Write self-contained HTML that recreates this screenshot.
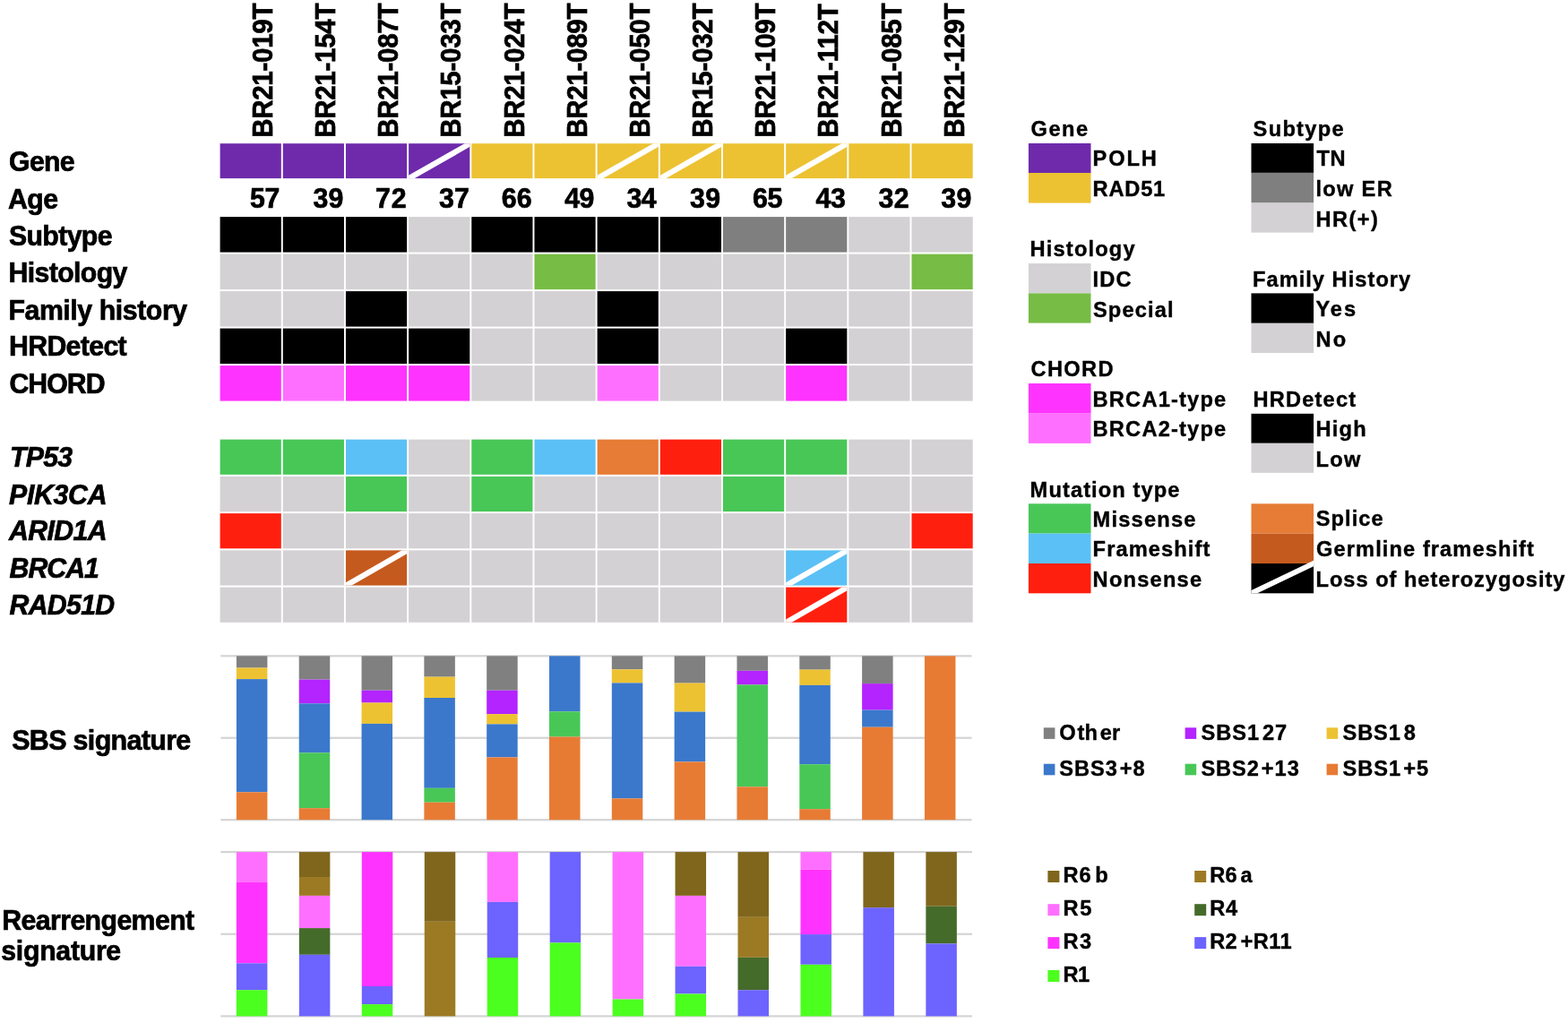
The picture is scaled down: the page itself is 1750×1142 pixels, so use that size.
<!DOCTYPE html>
<html><head><meta charset="utf-8"><title>Figure</title>
<style>
html,body{margin:0;padding:0;background:#fff;}
body{width:1750px;height:1142px;overflow:hidden;}
svg{display:block;}
svg text{font-family:'Liberation Sans',Arial,Helvetica,sans-serif;font-weight:bold;fill:#000;}
</style></head>
<body>
<svg width="1750" height="1142" viewBox="0 0 1750 1142">
<rect x="0" y="0" width="1750" height="1142" fill="#fff"/>
<rect x="245.60" y="160.20" width="68.20" height="38.90" fill="#6e2aaa"/>
<rect x="315.77" y="160.20" width="68.20" height="38.90" fill="#6e2aaa"/>
<rect x="385.94" y="160.20" width="68.20" height="38.90" fill="#6e2aaa"/>
<rect x="456.11" y="160.20" width="68.20" height="38.90" fill="#6e2aaa"/>
<rect x="526.28" y="160.20" width="68.20" height="38.90" fill="#ecc232"/>
<rect x="596.45" y="160.20" width="68.20" height="38.90" fill="#ecc232"/>
<rect x="666.62" y="160.20" width="68.20" height="38.90" fill="#ecc232"/>
<rect x="736.79" y="160.20" width="68.20" height="38.90" fill="#ecc232"/>
<rect x="806.96" y="160.20" width="68.20" height="38.90" fill="#ecc232"/>
<rect x="877.13" y="160.20" width="68.20" height="38.90" fill="#ecc232"/>
<rect x="947.30" y="160.20" width="68.20" height="38.90" fill="#ecc232"/>
<rect x="1017.47" y="160.20" width="68.20" height="38.90" fill="#ecc232"/>
<clipPath id="c1"><rect x="877.13" y="160.20" width="68.20" height="38.90"/></clipPath>
<line clip-path="url(#c1)" x1="873.13" y1="201.58" x2="949.33" y2="158.12" stroke="#fff" stroke-width="6.2"/>
<clipPath id="c2"><rect x="456.11" y="160.20" width="68.20" height="38.90"/></clipPath>
<line clip-path="url(#c2)" x1="452.11" y1="201.58" x2="528.31" y2="158.12" stroke="#fff" stroke-width="6.2"/>
<clipPath id="c3"><rect x="666.62" y="160.20" width="68.20" height="38.90"/></clipPath>
<line clip-path="url(#c3)" x1="662.62" y1="201.58" x2="738.82" y2="158.12" stroke="#fff" stroke-width="6.2"/>
<clipPath id="c4"><rect x="736.79" y="160.20" width="68.20" height="38.90"/></clipPath>
<line clip-path="url(#c4)" x1="732.79" y1="201.58" x2="808.99" y2="158.12" stroke="#fff" stroke-width="6.2"/>
<rect x="245.60" y="242.10" width="68.20" height="39.50" fill="#000000"/>
<rect x="315.77" y="242.10" width="68.20" height="39.50" fill="#000000"/>
<rect x="385.94" y="242.10" width="68.20" height="39.50" fill="#000000"/>
<rect x="456.11" y="242.10" width="68.20" height="39.50" fill="#d3d1d3"/>
<rect x="526.28" y="242.10" width="68.20" height="39.50" fill="#000000"/>
<rect x="596.45" y="242.10" width="68.20" height="39.50" fill="#000000"/>
<rect x="666.62" y="242.10" width="68.20" height="39.50" fill="#000000"/>
<rect x="736.79" y="242.10" width="68.20" height="39.50" fill="#000000"/>
<rect x="806.96" y="242.10" width="68.20" height="39.50" fill="#7f7f7f"/>
<rect x="877.13" y="242.10" width="68.20" height="39.50" fill="#7f7f7f"/>
<rect x="947.30" y="242.10" width="68.20" height="39.50" fill="#d3d1d3"/>
<rect x="1017.47" y="242.10" width="68.20" height="39.50" fill="#d3d1d3"/>
<rect x="245.60" y="283.60" width="68.20" height="39.50" fill="#d3d1d3"/>
<rect x="315.77" y="283.60" width="68.20" height="39.50" fill="#d3d1d3"/>
<rect x="385.94" y="283.60" width="68.20" height="39.50" fill="#d3d1d3"/>
<rect x="456.11" y="283.60" width="68.20" height="39.50" fill="#d3d1d3"/>
<rect x="526.28" y="283.60" width="68.20" height="39.50" fill="#d3d1d3"/>
<rect x="596.45" y="283.60" width="68.20" height="39.50" fill="#77bc45"/>
<rect x="666.62" y="283.60" width="68.20" height="39.50" fill="#d3d1d3"/>
<rect x="736.79" y="283.60" width="68.20" height="39.50" fill="#d3d1d3"/>
<rect x="806.96" y="283.60" width="68.20" height="39.50" fill="#d3d1d3"/>
<rect x="877.13" y="283.60" width="68.20" height="39.50" fill="#d3d1d3"/>
<rect x="947.30" y="283.60" width="68.20" height="39.50" fill="#d3d1d3"/>
<rect x="1017.47" y="283.60" width="68.20" height="39.50" fill="#77bc45"/>
<rect x="245.60" y="325.10" width="68.20" height="39.50" fill="#d3d1d3"/>
<rect x="315.77" y="325.10" width="68.20" height="39.50" fill="#d3d1d3"/>
<rect x="385.94" y="325.10" width="68.20" height="39.50" fill="#000000"/>
<rect x="456.11" y="325.10" width="68.20" height="39.50" fill="#d3d1d3"/>
<rect x="526.28" y="325.10" width="68.20" height="39.50" fill="#d3d1d3"/>
<rect x="596.45" y="325.10" width="68.20" height="39.50" fill="#d3d1d3"/>
<rect x="666.62" y="325.10" width="68.20" height="39.50" fill="#000000"/>
<rect x="736.79" y="325.10" width="68.20" height="39.50" fill="#d3d1d3"/>
<rect x="806.96" y="325.10" width="68.20" height="39.50" fill="#d3d1d3"/>
<rect x="877.13" y="325.10" width="68.20" height="39.50" fill="#d3d1d3"/>
<rect x="947.30" y="325.10" width="68.20" height="39.50" fill="#d3d1d3"/>
<rect x="1017.47" y="325.10" width="68.20" height="39.50" fill="#d3d1d3"/>
<rect x="245.60" y="366.60" width="68.20" height="39.50" fill="#000000"/>
<rect x="315.77" y="366.60" width="68.20" height="39.50" fill="#000000"/>
<rect x="385.94" y="366.60" width="68.20" height="39.50" fill="#000000"/>
<rect x="456.11" y="366.60" width="68.20" height="39.50" fill="#000000"/>
<rect x="526.28" y="366.60" width="68.20" height="39.50" fill="#d3d1d3"/>
<rect x="596.45" y="366.60" width="68.20" height="39.50" fill="#d3d1d3"/>
<rect x="666.62" y="366.60" width="68.20" height="39.50" fill="#000000"/>
<rect x="736.79" y="366.60" width="68.20" height="39.50" fill="#d3d1d3"/>
<rect x="806.96" y="366.60" width="68.20" height="39.50" fill="#d3d1d3"/>
<rect x="877.13" y="366.60" width="68.20" height="39.50" fill="#000000"/>
<rect x="947.30" y="366.60" width="68.20" height="39.50" fill="#d3d1d3"/>
<rect x="1017.47" y="366.60" width="68.20" height="39.50" fill="#d3d1d3"/>
<rect x="245.60" y="408.10" width="68.20" height="39.50" fill="#ff33ff"/>
<rect x="315.77" y="408.10" width="68.20" height="39.50" fill="#ff6fff"/>
<rect x="385.94" y="408.10" width="68.20" height="39.50" fill="#ff33ff"/>
<rect x="456.11" y="408.10" width="68.20" height="39.50" fill="#ff33ff"/>
<rect x="526.28" y="408.10" width="68.20" height="39.50" fill="#d3d1d3"/>
<rect x="596.45" y="408.10" width="68.20" height="39.50" fill="#d3d1d3"/>
<rect x="666.62" y="408.10" width="68.20" height="39.50" fill="#ff6fff"/>
<rect x="736.79" y="408.10" width="68.20" height="39.50" fill="#d3d1d3"/>
<rect x="806.96" y="408.10" width="68.20" height="39.50" fill="#d3d1d3"/>
<rect x="877.13" y="408.10" width="68.20" height="39.50" fill="#ff33ff"/>
<rect x="947.30" y="408.10" width="68.20" height="39.50" fill="#d3d1d3"/>
<rect x="1017.47" y="408.10" width="68.20" height="39.50" fill="#d3d1d3"/>
<rect x="245.60" y="490.60" width="68.20" height="39.20" fill="#48c757"/>
<rect x="315.77" y="490.60" width="68.20" height="39.20" fill="#48c757"/>
<rect x="385.94" y="490.60" width="68.20" height="39.20" fill="#5bc0f5"/>
<rect x="456.11" y="490.60" width="68.20" height="39.20" fill="#d3d1d3"/>
<rect x="526.28" y="490.60" width="68.20" height="39.20" fill="#48c757"/>
<rect x="596.45" y="490.60" width="68.20" height="39.20" fill="#5bc0f5"/>
<rect x="666.62" y="490.60" width="68.20" height="39.20" fill="#e67c35"/>
<rect x="736.79" y="490.60" width="68.20" height="39.20" fill="#ff1f0f"/>
<rect x="806.96" y="490.60" width="68.20" height="39.20" fill="#48c757"/>
<rect x="877.13" y="490.60" width="68.20" height="39.20" fill="#48c757"/>
<rect x="947.30" y="490.60" width="68.20" height="39.20" fill="#d3d1d3"/>
<rect x="1017.47" y="490.60" width="68.20" height="39.20" fill="#d3d1d3"/>
<rect x="245.60" y="531.85" width="68.20" height="39.20" fill="#d3d1d3"/>
<rect x="315.77" y="531.85" width="68.20" height="39.20" fill="#d3d1d3"/>
<rect x="385.94" y="531.85" width="68.20" height="39.20" fill="#48c757"/>
<rect x="456.11" y="531.85" width="68.20" height="39.20" fill="#d3d1d3"/>
<rect x="526.28" y="531.85" width="68.20" height="39.20" fill="#48c757"/>
<rect x="596.45" y="531.85" width="68.20" height="39.20" fill="#d3d1d3"/>
<rect x="666.62" y="531.85" width="68.20" height="39.20" fill="#d3d1d3"/>
<rect x="736.79" y="531.85" width="68.20" height="39.20" fill="#d3d1d3"/>
<rect x="806.96" y="531.85" width="68.20" height="39.20" fill="#48c757"/>
<rect x="877.13" y="531.85" width="68.20" height="39.20" fill="#d3d1d3"/>
<rect x="947.30" y="531.85" width="68.20" height="39.20" fill="#d3d1d3"/>
<rect x="1017.47" y="531.85" width="68.20" height="39.20" fill="#d3d1d3"/>
<rect x="245.60" y="573.10" width="68.20" height="39.20" fill="#ff1f0f"/>
<rect x="315.77" y="573.10" width="68.20" height="39.20" fill="#d3d1d3"/>
<rect x="385.94" y="573.10" width="68.20" height="39.20" fill="#d3d1d3"/>
<rect x="456.11" y="573.10" width="68.20" height="39.20" fill="#d3d1d3"/>
<rect x="526.28" y="573.10" width="68.20" height="39.20" fill="#d3d1d3"/>
<rect x="596.45" y="573.10" width="68.20" height="39.20" fill="#d3d1d3"/>
<rect x="666.62" y="573.10" width="68.20" height="39.20" fill="#d3d1d3"/>
<rect x="736.79" y="573.10" width="68.20" height="39.20" fill="#d3d1d3"/>
<rect x="806.96" y="573.10" width="68.20" height="39.20" fill="#d3d1d3"/>
<rect x="877.13" y="573.10" width="68.20" height="39.20" fill="#d3d1d3"/>
<rect x="947.30" y="573.10" width="68.20" height="39.20" fill="#d3d1d3"/>
<rect x="1017.47" y="573.10" width="68.20" height="39.20" fill="#ff1f0f"/>
<rect x="245.60" y="614.35" width="68.20" height="39.20" fill="#d3d1d3"/>
<rect x="315.77" y="614.35" width="68.20" height="39.20" fill="#d3d1d3"/>
<rect x="385.94" y="614.35" width="68.20" height="39.20" fill="#c55a1e"/>
<rect x="456.11" y="614.35" width="68.20" height="39.20" fill="#d3d1d3"/>
<rect x="526.28" y="614.35" width="68.20" height="39.20" fill="#d3d1d3"/>
<rect x="596.45" y="614.35" width="68.20" height="39.20" fill="#d3d1d3"/>
<rect x="666.62" y="614.35" width="68.20" height="39.20" fill="#d3d1d3"/>
<rect x="736.79" y="614.35" width="68.20" height="39.20" fill="#d3d1d3"/>
<rect x="806.96" y="614.35" width="68.20" height="39.20" fill="#d3d1d3"/>
<rect x="877.13" y="614.35" width="68.20" height="39.20" fill="#5bc0f5"/>
<rect x="947.30" y="614.35" width="68.20" height="39.20" fill="#d3d1d3"/>
<rect x="1017.47" y="614.35" width="68.20" height="39.20" fill="#d3d1d3"/>
<rect x="245.60" y="655.60" width="68.20" height="39.20" fill="#d3d1d3"/>
<rect x="315.77" y="655.60" width="68.20" height="39.20" fill="#d3d1d3"/>
<rect x="385.94" y="655.60" width="68.20" height="39.20" fill="#d3d1d3"/>
<rect x="456.11" y="655.60" width="68.20" height="39.20" fill="#d3d1d3"/>
<rect x="526.28" y="655.60" width="68.20" height="39.20" fill="#d3d1d3"/>
<rect x="596.45" y="655.60" width="68.20" height="39.20" fill="#d3d1d3"/>
<rect x="666.62" y="655.60" width="68.20" height="39.20" fill="#d3d1d3"/>
<rect x="736.79" y="655.60" width="68.20" height="39.20" fill="#d3d1d3"/>
<rect x="806.96" y="655.60" width="68.20" height="39.20" fill="#d3d1d3"/>
<rect x="877.13" y="655.60" width="68.20" height="39.20" fill="#ff1f0f"/>
<rect x="947.30" y="655.60" width="68.20" height="39.20" fill="#d3d1d3"/>
<rect x="1017.47" y="655.60" width="68.20" height="39.20" fill="#d3d1d3"/>
<clipPath id="c5"><rect x="877.13" y="655.60" width="68.20" height="39.20"/></clipPath>
<line clip-path="url(#c5)" x1="873.13" y1="697.30" x2="949.33" y2="653.50" stroke="#fff" stroke-width="6.2"/>
<clipPath id="c6"><rect x="385.94" y="614.35" width="68.20" height="39.20"/></clipPath>
<line clip-path="url(#c6)" x1="381.94" y1="656.05" x2="458.14" y2="612.25" stroke="#fff" stroke-width="6.2"/>
<clipPath id="c7"><rect x="877.13" y="614.35" width="68.20" height="39.20"/></clipPath>
<line clip-path="url(#c7)" x1="873.13" y1="656.05" x2="949.33" y2="612.25" stroke="#fff" stroke-width="6.2"/>
<rect x="1147.90" y="160.00" width="69.60" height="33.00" fill="#6e2aaa"/>
<rect x="1147.90" y="193.00" width="69.60" height="33.60" fill="#ecc232"/>
<rect x="1396.50" y="160.00" width="69.60" height="32.90" fill="#000000"/>
<rect x="1396.50" y="192.90" width="69.60" height="33.60" fill="#7f7f7f"/>
<rect x="1396.50" y="226.50" width="69.60" height="33.10" fill="#d3d1d3"/>
<rect x="1147.90" y="294.10" width="69.60" height="33.30" fill="#d3d1d3"/>
<rect x="1147.90" y="327.40" width="69.60" height="33.20" fill="#77bc45"/>
<rect x="1396.50" y="327.40" width="69.60" height="33.40" fill="#000000"/>
<rect x="1396.50" y="360.80" width="69.60" height="33.20" fill="#d3d1d3"/>
<rect x="1147.90" y="428.00" width="69.60" height="33.60" fill="#ff33ff"/>
<rect x="1147.90" y="461.60" width="69.60" height="33.30" fill="#ff6fff"/>
<rect x="1396.50" y="461.80" width="69.60" height="33.00" fill="#000000"/>
<rect x="1396.50" y="494.80" width="69.60" height="33.00" fill="#d3d1d3"/>
<rect x="1147.90" y="562.30" width="69.60" height="33.30" fill="#48c757"/>
<rect x="1147.90" y="595.60" width="69.60" height="33.40" fill="#5bc0f5"/>
<rect x="1147.90" y="629.00" width="69.60" height="33.30" fill="#ff1f0f"/>
<rect x="1396.50" y="562.30" width="69.60" height="33.30" fill="#e67c35"/>
<rect x="1396.50" y="595.60" width="69.60" height="33.40" fill="#c55a1e"/>
<rect x="1396.50" y="629.00" width="69.60" height="33.30" fill="#000000"/>
<clipPath id="c8"><rect x="1396.50" y="599.00" width="69.60" height="63.30"/></clipPath>
<line clip-path="url(#c8)" x1="1392.50" y1="664.21" x2="1470.10" y2="627.09" stroke="#fff" stroke-width="5.8"/>
<rect x="246.3" y="731.20" width="838.20" height="2.2" fill="#d4d4d4"/>
<rect x="246.3" y="822.65" width="838.20" height="2.2" fill="#d4d4d4"/>
<rect x="246.3" y="914.10" width="838.20" height="2.2" fill="#d4d4d4"/>
<rect x="263.90" y="732.30" width="34.50" height="13.20" fill="#808080"/>
<rect x="263.90" y="745.50" width="34.50" height="12.60" fill="#edc232"/>
<rect x="263.90" y="758.10" width="34.50" height="126.20" fill="#3b78cb"/>
<rect x="263.90" y="884.30" width="34.50" height="30.90" fill="#e77b34"/>
<rect x="333.72" y="732.30" width="34.50" height="26.30" fill="#808080"/>
<rect x="333.72" y="758.60" width="34.50" height="26.70" fill="#b324ff"/>
<rect x="333.72" y="785.30" width="34.50" height="55.00" fill="#3b78cb"/>
<rect x="333.72" y="840.30" width="34.50" height="61.90" fill="#48c757"/>
<rect x="333.72" y="902.20" width="34.50" height="13.00" fill="#e77b34"/>
<rect x="403.54" y="732.30" width="34.50" height="38.40" fill="#808080"/>
<rect x="403.54" y="770.70" width="34.50" height="13.80" fill="#b324ff"/>
<rect x="403.54" y="784.50" width="34.50" height="23.40" fill="#edc232"/>
<rect x="403.54" y="807.90" width="34.50" height="107.30" fill="#3b78cb"/>
<rect x="473.36" y="732.30" width="34.50" height="23.30" fill="#808080"/>
<rect x="473.36" y="755.60" width="34.50" height="23.40" fill="#edc232"/>
<rect x="473.36" y="779.00" width="34.50" height="100.80" fill="#3b78cb"/>
<rect x="473.36" y="879.80" width="34.50" height="15.90" fill="#48c757"/>
<rect x="473.36" y="895.70" width="34.50" height="19.50" fill="#e77b34"/>
<rect x="543.18" y="732.30" width="34.50" height="38.40" fill="#808080"/>
<rect x="543.18" y="770.70" width="34.50" height="26.40" fill="#b324ff"/>
<rect x="543.18" y="797.10" width="34.50" height="11.30" fill="#edc232"/>
<rect x="543.18" y="808.40" width="34.50" height="37.00" fill="#3b78cb"/>
<rect x="543.18" y="845.40" width="34.50" height="69.80" fill="#e77b34"/>
<rect x="613.00" y="732.30" width="34.50" height="62.00" fill="#3b78cb"/>
<rect x="613.00" y="794.30" width="34.50" height="28.20" fill="#48c757"/>
<rect x="613.00" y="822.50" width="34.50" height="92.70" fill="#e77b34"/>
<rect x="682.82" y="732.30" width="34.50" height="15.00" fill="#808080"/>
<rect x="682.82" y="747.30" width="34.50" height="15.10" fill="#edc232"/>
<rect x="682.82" y="762.40" width="34.50" height="129.00" fill="#3b78cb"/>
<rect x="682.82" y="891.40" width="34.50" height="23.80" fill="#e77b34"/>
<rect x="752.64" y="732.30" width="34.50" height="30.30" fill="#808080"/>
<rect x="752.64" y="762.60" width="34.50" height="32.00" fill="#edc232"/>
<rect x="752.64" y="794.60" width="34.50" height="55.80" fill="#3b78cb"/>
<rect x="752.64" y="850.40" width="34.50" height="64.80" fill="#e77b34"/>
<rect x="822.46" y="732.30" width="34.50" height="16.50" fill="#808080"/>
<rect x="822.46" y="748.80" width="34.50" height="15.60" fill="#b324ff"/>
<rect x="822.46" y="764.40" width="34.50" height="113.90" fill="#48c757"/>
<rect x="822.46" y="878.30" width="34.50" height="36.90" fill="#e77b34"/>
<rect x="892.28" y="732.30" width="34.50" height="15.30" fill="#808080"/>
<rect x="892.28" y="747.60" width="34.50" height="17.30" fill="#edc232"/>
<rect x="892.28" y="764.90" width="34.50" height="88.30" fill="#3b78cb"/>
<rect x="892.28" y="853.20" width="34.50" height="50.00" fill="#48c757"/>
<rect x="892.28" y="903.20" width="34.50" height="12.00" fill="#e77b34"/>
<rect x="962.10" y="732.30" width="34.50" height="30.80" fill="#808080"/>
<rect x="962.10" y="763.10" width="34.50" height="29.50" fill="#b324ff"/>
<rect x="962.10" y="792.60" width="34.50" height="19.10" fill="#3b78cb"/>
<rect x="962.10" y="811.70" width="34.50" height="103.50" fill="#e77b34"/>
<rect x="1031.92" y="732.30" width="34.50" height="182.90" fill="#e77b34"/>
<rect x="246.3" y="950.00" width="838.70" height="2.2" fill="#d4d4d4"/>
<rect x="246.3" y="1041.65" width="838.70" height="2.2" fill="#d4d4d4"/>
<rect x="246.3" y="1133.30" width="838.70" height="2.2" fill="#d4d4d4"/>
<rect x="263.90" y="951.10" width="34.50" height="33.40" fill="#ff6fff"/>
<rect x="263.90" y="984.50" width="34.50" height="90.80" fill="#ff33ff"/>
<rect x="263.90" y="1075.30" width="34.50" height="29.90" fill="#6d63ff"/>
<rect x="263.90" y="1105.20" width="34.50" height="29.20" fill="#4bff1f"/>
<rect x="333.85" y="951.10" width="34.50" height="27.90" fill="#7f661c"/>
<rect x="333.85" y="979.00" width="34.50" height="20.90" fill="#9c7a24"/>
<rect x="333.85" y="999.90" width="34.50" height="36.20" fill="#ff6fff"/>
<rect x="333.85" y="1036.10" width="34.50" height="29.70" fill="#456b2b"/>
<rect x="333.85" y="1065.80" width="34.50" height="68.60" fill="#6d63ff"/>
<rect x="403.80" y="951.10" width="34.50" height="149.90" fill="#ff33ff"/>
<rect x="403.80" y="1101.00" width="34.50" height="20.10" fill="#6d63ff"/>
<rect x="403.80" y="1121.10" width="34.50" height="13.30" fill="#4bff1f"/>
<rect x="473.75" y="951.10" width="34.50" height="77.70" fill="#7f661c"/>
<rect x="473.75" y="1028.80" width="34.50" height="105.60" fill="#9c7a24"/>
<rect x="543.70" y="951.10" width="34.50" height="55.80" fill="#ff6fff"/>
<rect x="543.70" y="1006.90" width="34.50" height="62.10" fill="#6d63ff"/>
<rect x="543.70" y="1069.00" width="34.50" height="65.40" fill="#4bff1f"/>
<rect x="613.65" y="951.10" width="34.50" height="101.30" fill="#6d63ff"/>
<rect x="613.65" y="1052.40" width="34.50" height="82.00" fill="#4bff1f"/>
<rect x="683.60" y="951.10" width="34.50" height="164.40" fill="#ff6fff"/>
<rect x="683.60" y="1115.50" width="34.50" height="18.90" fill="#4bff1f"/>
<rect x="753.55" y="951.10" width="34.50" height="48.80" fill="#7f661c"/>
<rect x="753.55" y="999.90" width="34.50" height="78.90" fill="#ff6fff"/>
<rect x="753.55" y="1078.80" width="34.50" height="30.70" fill="#6d63ff"/>
<rect x="753.55" y="1109.50" width="34.50" height="24.90" fill="#4bff1f"/>
<rect x="823.50" y="951.10" width="34.50" height="72.70" fill="#7f661c"/>
<rect x="823.50" y="1023.80" width="34.50" height="45.00" fill="#9c7a24"/>
<rect x="823.50" y="1068.80" width="34.50" height="36.40" fill="#456b2b"/>
<rect x="823.50" y="1105.20" width="34.50" height="29.20" fill="#6d63ff"/>
<rect x="893.45" y="951.10" width="34.50" height="19.60" fill="#ff6fff"/>
<rect x="893.45" y="970.70" width="34.50" height="72.40" fill="#ff33ff"/>
<rect x="893.45" y="1043.10" width="34.50" height="33.70" fill="#6d63ff"/>
<rect x="893.45" y="1076.80" width="34.50" height="57.60" fill="#4bff1f"/>
<rect x="963.40" y="951.10" width="34.50" height="62.10" fill="#7f661c"/>
<rect x="963.40" y="1013.20" width="34.50" height="121.20" fill="#6d63ff"/>
<rect x="1033.35" y="951.10" width="34.50" height="60.60" fill="#7f661c"/>
<rect x="1033.35" y="1011.70" width="34.50" height="41.70" fill="#456b2b"/>
<rect x="1033.35" y="1053.40" width="34.50" height="81.00" fill="#6d63ff"/>
<rect x="1164.80" y="812.30" width="12.60" height="12.60" fill="#808080"/>
<rect x="1322.60" y="812.30" width="12.60" height="12.60" fill="#b324ff"/>
<rect x="1480.60" y="812.30" width="12.60" height="12.60" fill="#edc232"/>
<rect x="1164.80" y="852.70" width="12.60" height="12.60" fill="#3b78cb"/>
<rect x="1322.60" y="852.70" width="12.60" height="12.60" fill="#48c757"/>
<rect x="1480.60" y="852.70" width="12.60" height="12.60" fill="#e77b34"/>
<rect x="1169.40" y="972.00" width="13.00" height="13.00" fill="#7f661c"/>
<rect x="1333.20" y="972.00" width="13.00" height="13.00" fill="#9c7a24"/>
<rect x="1169.40" y="1009.20" width="13.00" height="13.00" fill="#ff6fff"/>
<rect x="1333.20" y="1009.20" width="13.00" height="13.00" fill="#456b2b"/>
<rect x="1169.40" y="1046.10" width="13.00" height="13.00" fill="#ff33ff"/>
<rect x="1333.20" y="1046.10" width="13.00" height="13.00" fill="#6d63ff"/>
<rect x="1169.40" y="1083.00" width="13.00" height="13.00" fill="#4bff1f"/>
<text transform="translate(303.95,153.84) rotate(-90) scale(0.97,1)" font-size="30.49" letter-spacing="-0.316" stroke="#000" stroke-width="0.7">BR21-019T</text>
<text transform="translate(374.12,153.84) rotate(-90) scale(0.97,1)" font-size="30.49" letter-spacing="-0.316" stroke="#000" stroke-width="0.7">BR21-154T</text>
<text transform="translate(444.29,153.84) rotate(-90) scale(0.97,1)" font-size="30.49" letter-spacing="-0.316" stroke="#000" stroke-width="0.7">BR21-087T</text>
<text transform="translate(514.46,153.84) rotate(-90) scale(0.97,1)" font-size="30.49" letter-spacing="-0.316" stroke="#000" stroke-width="0.7">BR15-033T</text>
<text transform="translate(584.63,153.84) rotate(-90) scale(0.97,1)" font-size="30.49" letter-spacing="-0.316" stroke="#000" stroke-width="0.7">BR21-024T</text>
<text transform="translate(654.80,153.84) rotate(-90) scale(0.97,1)" font-size="30.49" letter-spacing="-0.316" stroke="#000" stroke-width="0.7">BR21-089T</text>
<text transform="translate(724.97,153.84) rotate(-90) scale(0.97,1)" font-size="30.49" letter-spacing="-0.316" stroke="#000" stroke-width="0.7">BR21-050T</text>
<text transform="translate(795.14,153.84) rotate(-90) scale(0.97,1)" font-size="30.49" letter-spacing="-0.316" stroke="#000" stroke-width="0.7">BR15-032T</text>
<text transform="translate(865.31,153.84) rotate(-90) scale(0.97,1)" font-size="30.49" letter-spacing="-0.316" stroke="#000" stroke-width="0.7">BR21-109T</text>
<text transform="translate(935.48,153.84) rotate(-90) scale(0.97,1)" font-size="30.49" letter-spacing="-0.191" stroke="#000" stroke-width="0.7">BR21-112T</text>
<text transform="translate(1005.65,153.84) rotate(-90) scale(0.97,1)" font-size="30.49" letter-spacing="-0.316" stroke="#000" stroke-width="0.7">BR21-085T</text>
<text transform="translate(1075.82,153.84) rotate(-90) scale(0.97,1)" font-size="30.49" letter-spacing="-0.316" stroke="#000" stroke-width="0.7">BR21-129T</text>
<text transform="translate(10.08,191.05) scale(0.97,1)" font-size="31.22" letter-spacing="-0.729" stroke="#000" stroke-width="0.7">Gene</text>
<text transform="translate(8.98,232.55) scale(0.97,1)" font-size="31.22" letter-spacing="-0.562" stroke="#000" stroke-width="0.7">Age</text>
<text transform="translate(9.88,273.65) scale(0.97,1)" font-size="31.22" letter-spacing="-0.648" stroke="#000" stroke-width="0.7">Subtype</text>
<text transform="translate(9.41,315.05) scale(0.97,1)" font-size="31.22" letter-spacing="-0.631" stroke="#000" stroke-width="0.7">Histology</text>
<text transform="translate(9.41,356.75) scale(0.97,1)" font-size="31.22" letter-spacing="-0.446" stroke="#000" stroke-width="0.7">Family history</text>
<text transform="translate(10.01,397.05) scale(0.97,1)" font-size="31.22" letter-spacing="-0.686" stroke="#000" stroke-width="0.7">HRDetect</text>
<text transform="translate(10.38,439.05) scale(0.97,1)" font-size="31.22" letter-spacing="-0.964" stroke="#000" stroke-width="0.7">CHORD</text>
<text transform="translate(10.91,521.15) scale(0.97,1)" font-size="31.22" font-style="italic" letter-spacing="-0.735" stroke="#000" stroke-width="0.7">TP53</text>
<text transform="translate(9.98,562.55) scale(0.97,1)" font-size="31.22" font-style="italic" letter-spacing="-0.303" stroke="#000" stroke-width="0.7">PIK3CA</text>
<text transform="translate(9.95,603.35) scale(0.97,1)" font-size="31.22" font-style="italic" letter-spacing="-0.614" stroke="#000" stroke-width="0.7">ARID1A</text>
<text transform="translate(10.58,644.65) scale(0.97,1)" font-size="31.22" font-style="italic" letter-spacing="-1.018" stroke="#000" stroke-width="0.7">BRCA1</text>
<text transform="translate(10.58,685.95) scale(0.97,1)" font-size="31.22" font-style="italic" letter-spacing="-0.744" stroke="#000" stroke-width="0.7">RAD51D</text>
<text transform="translate(278.98,232.15) scale(0.97,1)" font-size="31.22" letter-spacing="-0.247" stroke="#000" stroke-width="0.7">57</text>
<text transform="translate(349.38,232.15) scale(0.97,1)" font-size="31.22" letter-spacing="0.268" stroke="#000" stroke-width="0.7">39</text>
<text transform="translate(419.08,232.15) scale(0.97,1)" font-size="31.22" letter-spacing="0.784" stroke="#000" stroke-width="0.7">72</text>
<text transform="translate(489.98,232.15) scale(0.97,1)" font-size="31.22" letter-spacing="0.268" stroke="#000" stroke-width="0.7">37</text>
<text transform="translate(559.68,232.15) scale(0.97,1)" font-size="31.22" letter-spacing="0.268" stroke="#000" stroke-width="0.7">66</text>
<text transform="translate(630.35,232.15) scale(0.97,1)" font-size="31.22" letter-spacing="-0.732" stroke="#000" stroke-width="0.7">49</text>
<text transform="translate(699.58,232.15) scale(0.97,1)" font-size="31.22" letter-spacing="-0.732" stroke="#000" stroke-width="0.7">34</text>
<text transform="translate(770.08,232.15) scale(0.97,1)" font-size="31.22" letter-spacing="0.268" stroke="#000" stroke-width="0.7">39</text>
<text transform="translate(839.88,232.15) scale(0.97,1)" font-size="31.22" letter-spacing="-0.320" stroke="#000" stroke-width="0.7">65</text>
<text transform="translate(910.55,232.15) scale(0.97,1)" font-size="31.22" letter-spacing="-0.320" stroke="#000" stroke-width="0.7">43</text>
<text transform="translate(980.48,232.15) scale(0.97,1)" font-size="31.22" letter-spacing="0.371" stroke="#000" stroke-width="0.7">32</text>
<text transform="translate(1050.28,232.15) scale(0.97,1)" font-size="31.22" letter-spacing="0.474" stroke="#000" stroke-width="0.7">39</text>
<text transform="translate(1150.60,152.35) scale(1.0,1)" font-size="23.64" letter-spacing="1.500" stroke="#000" stroke-width="0.4">Gene</text>
<text transform="translate(1219.60,185.45) scale(1.0,1)" font-size="23.64" letter-spacing="1.833" stroke="#000" stroke-width="0.4">POLH</text>
<text transform="translate(1219.60,219.15) scale(1.0,1)" font-size="23.64" letter-spacing="0.800" stroke="#000" stroke-width="0.4">RAD51</text>
<text transform="translate(1398.60,152.45) scale(1.0,1)" font-size="23.64" letter-spacing="1.300" stroke="#000" stroke-width="0.4">Subtype</text>
<text transform="translate(1469.40,185.45) scale(1.0,1)" font-size="23.64" letter-spacing="0.600" stroke="#000" stroke-width="0.4">TN</text>
<text transform="translate(1468.40,219.25) scale(1.0,1)" font-size="23.64" letter-spacing="1.320" stroke="#000" stroke-width="0.4">low ER</text>
<text transform="translate(1468.40,252.95) scale(1.0,1)" font-size="23.64" letter-spacing="1.450" stroke="#000" stroke-width="0.4">HR(+)</text>
<text transform="translate(1149.60,286.45) scale(1.0,1)" font-size="23.64" letter-spacing="1.162" stroke="#000" stroke-width="0.4">Histology</text>
<text transform="translate(1219.60,320.05) scale(1.0,1)" font-size="23.64" letter-spacing="1.150" stroke="#000" stroke-width="0.4">IDC</text>
<text transform="translate(1219.90,353.55) scale(1.0,1)" font-size="23.64" letter-spacing="1.167" stroke="#000" stroke-width="0.4">Special</text>
<text transform="translate(1398.00,319.85) scale(1.0,1)" font-size="23.64" letter-spacing="1.031" stroke="#000" stroke-width="0.4">Family History</text>
<text transform="translate(1468.40,353.45) scale(1.0,1)" font-size="23.64" letter-spacing="2.000" stroke="#000" stroke-width="0.4">Yes</text>
<text transform="translate(1468.40,386.65) scale(1.0,1)" font-size="23.64" letter-spacing="2.400" stroke="#000" stroke-width="0.4">No</text>
<text transform="translate(1150.60,420.35) scale(1.0,1)" font-size="23.64" letter-spacing="1.325" stroke="#000" stroke-width="0.4">CHORD</text>
<text transform="translate(1219.60,454.35) scale(1.0,1)" font-size="23.64" letter-spacing="1.200" stroke="#000" stroke-width="0.4">BRCA1-type</text>
<text transform="translate(1219.60,487.15) scale(1.0,1)" font-size="23.64" letter-spacing="1.200" stroke="#000" stroke-width="0.4">BRCA2-type</text>
<text transform="translate(1398.40,454.45) scale(1.0,1)" font-size="23.64" letter-spacing="1.200" stroke="#000" stroke-width="0.4">HRDetect</text>
<text transform="translate(1468.40,487.45) scale(1.0,1)" font-size="23.64" letter-spacing="1.267" stroke="#000" stroke-width="0.4">High</text>
<text transform="translate(1468.40,521.05) scale(1.0,1)" font-size="23.64" letter-spacing="1.400" stroke="#000" stroke-width="0.4">Low</text>
<text transform="translate(1149.60,555.15) scale(1.0,1)" font-size="23.64" letter-spacing="1.108" stroke="#000" stroke-width="0.4">Mutation type</text>
<text transform="translate(1219.60,587.75) scale(1.0,1)" font-size="23.64" letter-spacing="1.214" stroke="#000" stroke-width="0.4">Missense</text>
<text transform="translate(1219.60,621.35) scale(1.0,1)" font-size="23.64" letter-spacing="1.100" stroke="#000" stroke-width="0.4">Frameshift</text>
<text transform="translate(1219.60,655.15) scale(1.0,1)" font-size="23.64" letter-spacing="1.229" stroke="#000" stroke-width="0.4">Nonsense</text>
<text transform="translate(1468.80,587.35) scale(1.0,1)" font-size="23.64" letter-spacing="1.060" stroke="#000" stroke-width="0.4">Splice</text>
<text transform="translate(1469.10,621.25) scale(1.0,1)" font-size="23.64" letter-spacing="1.089" stroke="#000" stroke-width="0.4">Germline frameshift</text>
<text transform="translate(1468.50,655.45) scale(1.0,1)" font-size="23.64" letter-spacing="0.986" stroke="#000" stroke-width="0.4">Loss of heterozygosity</text>
<text transform="translate(13.18,837.15) scale(0.97,1)" font-size="31.43" letter-spacing="-0.705" stroke="#000" stroke-width="0.7">SBS signature</text>
<text transform="translate(2.31,1037.55) scale(0.97,1)" font-size="31.22" letter-spacing="-0.626" stroke="#000" stroke-width="0.7">Rearrengement</text>
<text transform="translate(1.31,1071.95) scale(0.97,1)" font-size="31.22" letter-spacing="-0.308" stroke="#000" stroke-width="0.7">signature</text>
<text transform="translate(1182.20,826.05) scale(1.0,1)" font-size="23.64" letter-spacing="0.100" stroke="#000" stroke-width="0.4">O<tspan dx="1.8">th</tspan><tspan dx="2.8">er</tspan></text>
<text transform="translate(1340.40,825.95) scale(1.0,1)" font-size="23.64" letter-spacing="1.000" stroke="#000" stroke-width="0.4">SBS1<tspan dx="2.8">27</tspan></text>
<text transform="translate(1498.50,825.95) scale(1.0,1)" font-size="23.64" letter-spacing="0.900" stroke="#000" stroke-width="0.4">SBS1<tspan dx="2.8">8</tspan></text>
<text transform="translate(1182.20,866.45) scale(1.0,1)" font-size="23.64" letter-spacing="0.980" stroke="#000" stroke-width="0.4">SBS3<tspan dx="2">+8</tspan></text>
<text transform="translate(1340.40,866.45) scale(1.0,1)" font-size="23.64" letter-spacing="0.933" stroke="#000" stroke-width="0.4">SBS2<tspan dx="2">+13</tspan></text>
<text transform="translate(1498.50,866.45) scale(1.0,1)" font-size="23.64" letter-spacing="1.000" stroke="#000" stroke-width="0.4">SBS1<tspan dx="2">+5</tspan></text>
<text transform="translate(1186.50,985.05) scale(1.0,1)" font-size="23.64" letter-spacing="1.050" stroke="#000" stroke-width="0.4">R6<tspan dx="3.5">b</tspan></text>
<text transform="translate(1350.20,985.05) scale(1.0,1)" font-size="23.64" letter-spacing="0.300" stroke="#000" stroke-width="0.4">R6<tspan dx="3.5">a</tspan></text>
<text transform="translate(1186.50,1021.95) scale(1.0,1)" font-size="23.64" letter-spacing="1.700" stroke="#000" stroke-width="0.4">R5</text>
<text transform="translate(1350.20,1021.95) scale(1.0,1)" font-size="23.64" letter-spacing="0.800" stroke="#000" stroke-width="0.4">R4</text>
<text transform="translate(1186.50,1058.85) scale(1.0,1)" font-size="23.64" letter-spacing="1.400" stroke="#000" stroke-width="0.4">R3</text>
<text transform="translate(1350.20,1058.85) scale(1.0,1)" font-size="23.64" letter-spacing="0.360" stroke="#000" stroke-width="0.4">R2<tspan dx="3.5">+R11</tspan></text>
<text transform="translate(1186.50,1095.95) scale(1.0,1)" font-size="23.64" letter-spacing="-0.500" stroke="#000" stroke-width="0.4">R1</text>
</svg>
</body></html>
